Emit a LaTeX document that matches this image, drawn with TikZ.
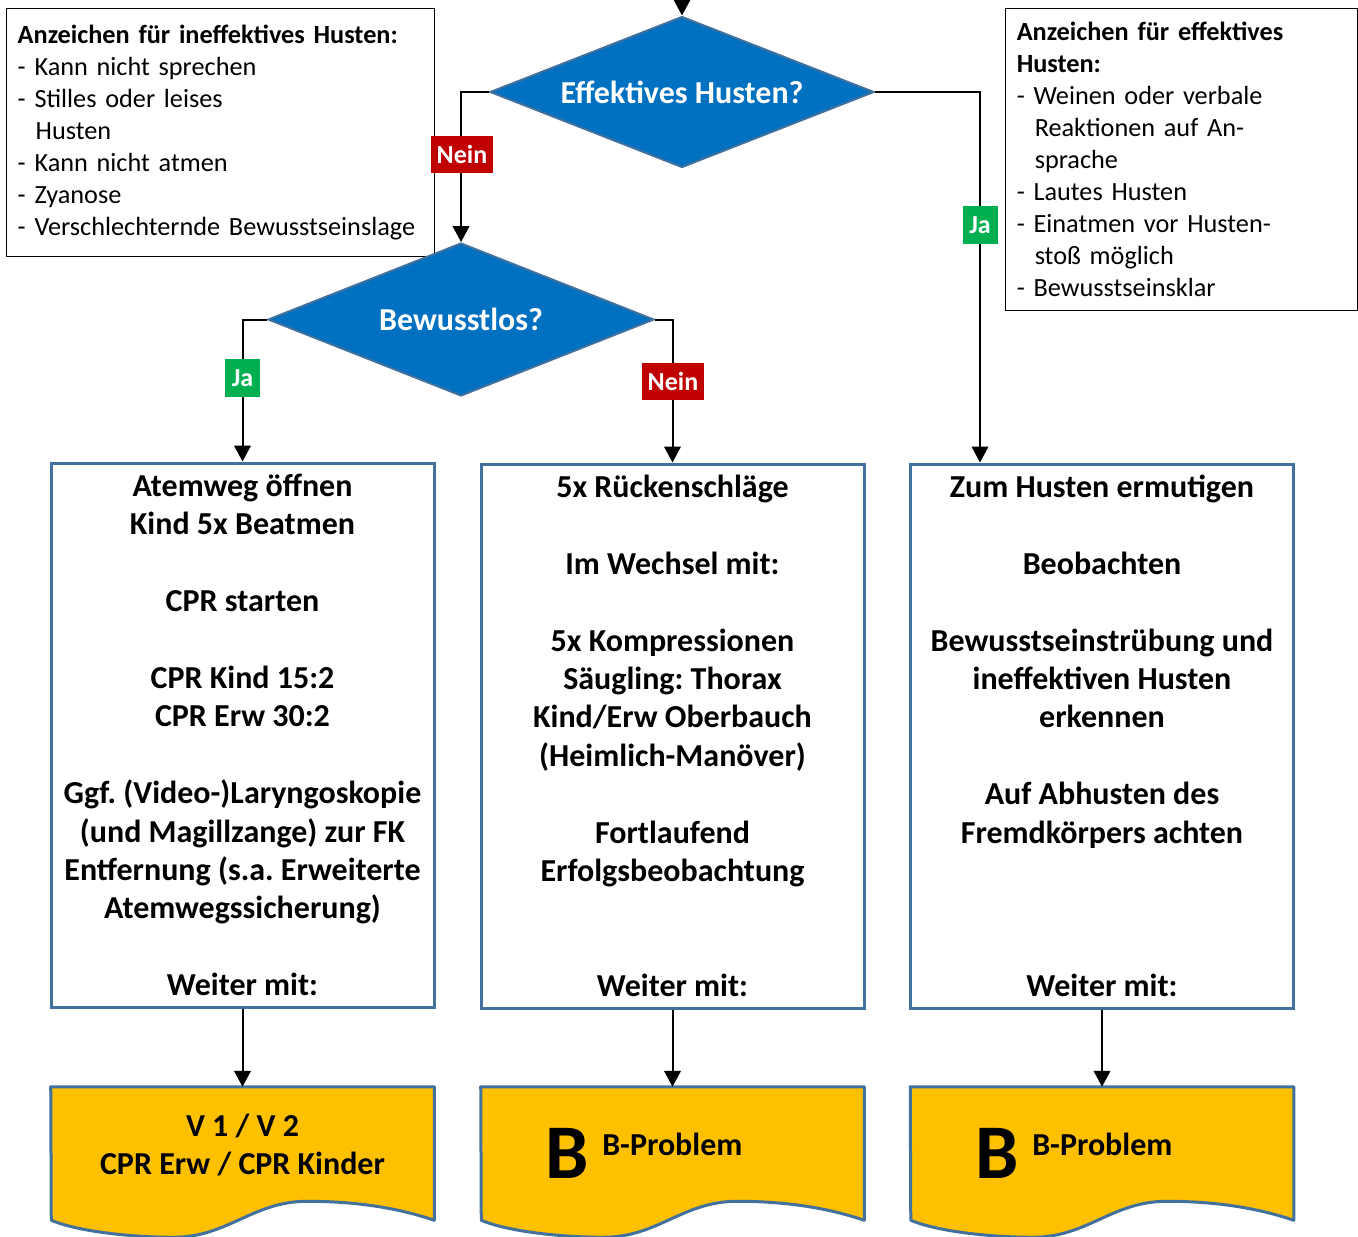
\documentclass[tikz,border=0pt]{standalone}
\usepackage{fontspec}
\setmainfont{Carlito}
\usetikzlibrary{shapes.geometric,arrows.meta}

\definecolor{decblue}{HTML}{0070C0}
\definecolor{frameblue}{HTML}{41719C}
\definecolor{docyellow}{HTML}{FFC000}
\definecolor{neinred}{HTML}{C00000}
\definecolor{jagreen}{HTML}{00B050}

\frenchspacing
\newcommand{\bxfont}{\fontsize{24pt}{28.8pt}\selectfont\bfseries}
\newcommand{\clfont}{\fontsize{19.7pt}{24pt}\selectfont}
\newcommand{\lbfont}{\fontsize{19.5pt}{21pt}\selectfont\bfseries}
\newcommand{\bigBfont}{\fontsize{58pt}{60pt}\selectfont\bfseries}
\newcommand{\ind}{\hspace*{13.5pt}}

% wavy lower edge of a document symbol, drawn around an invisible frame node
\newcommand{\docwave}[1]{%
  \draw[docstyle] (#1.north west) -- (#1.north east) -- (#1.south east)
    .. controls +(-44,-15) and +(38,0) .. ++(-127,-19)
    .. controls +(-55,0) and +(55,0) .. ++(-134,36)
    .. controls +(-38,0) and +(29,12) .. ++(-122,-17) -- cycle;}

\begin{document}
\begin{tikzpicture}[x=0.75pt,y=-0.75pt,
  conn/.style={line width=1.5pt, -{Triangle[length=12pt,width=12.5pt]}},
  decision/.style={diamond, draw=frameblue, line width=1.5pt, fill=decblue,
    text=white, font=\bxfont, inner sep=0pt, shape aspect=2.5},
  stepbox/.style={rectangle, draw=frameblue, line width=2.25pt, fill=white,
    minimum width=287.25pt, minimum height=408pt, align=center,
    font=\bxfont, inner sep=0pt},
  docframe/.style={rectangle, minimum width=287.25pt, minimum height=99.75pt, inner sep=0pt},
  docstyle/.style={draw=frameblue, line width=2.25pt, fill=docyellow, line join=round},
  doctext/.style={font=\bxfont, align=center, inner sep=0pt},
  callout/.style={rectangle, draw=black, line width=1.1pt, fill=white,
    align=left, inner xsep=8.25pt, inner ysep=4pt, font=\clfont, anchor=north west},
  neinlab/.style={rectangle, fill=neinred, text=white, font=\lbfont,
    minimum width=46.5pt, minimum height=27.75pt, inner sep=0pt},
  jalab/.style={rectangle, fill=jagreen, text=white, font=\lbfont,
    minimum width=26.25pt, minimum height=28.5pt, inner sep=0pt}
]
\useasboundingbox (0,0) rectangle (1358,1236);

% sign lists
\node[callout, text width=304.5pt, minimum height=186pt] (c1) at (6,8)
  {\textbf{Anzeichen für ineffektives Husten:}\\
   - Kann nicht sprechen\\
   - Stilles oder leises\\
   \ind Husten\\
   - Kann nicht atmen\\
   - Zyanose\\
   - Verschlechternde Bewusstseinslage};
\node[callout, text width=247.5pt, minimum height=226.5pt] (c2) at (1005,8)
  {\textbf{Anzeichen für effektives}\\
   \textbf{Husten:}\\
   - Weinen oder verbale\\
   \ind Reaktionen auf An-\\
   \ind sprache\\
   - Lautes Husten\\
   - Einatmen vor Husten-\\
   \ind stoß möglich\\
   - Bewusstseinsklar};

% decisions
\node[decision, minimum width=288pt, minimum height=113.25pt] (d1) at (682,92) {Effektives Husten?};
\node[decision, minimum width=289.5pt, minimum height=114.75pt] (d2) at (461,319.5) {Bewusstlos?};

% action boxes
\node[stepbox] (b1) at (242.5,735) {Atemweg öffnen\\Kind 5x Beatmen\\ \null\\CPR starten\\ \null\\
  CPR Kind 15:2\\CPR Erw 30:2\\ \null\\Ggf. (Video-)Laryngoskopie\\(und Magillzange) zur FK\\
  Entfernung (s.a. Erweiterte\\Atemwegssicherung)\\ \null\\Weiter mit:};
\node[stepbox] (b2) at (672.5,736) {5x Rückenschläge\\ \null\\Im Wechsel mit:\\ \null\\
  5x Kompressionen\\Säugling: Thorax\\Kind/Erw Oberbauch\\(Heimlich-Manöver)\\ \null\\
  Fortlaufend\\Erfolgsbeobachtung\\ \null\\ \null\\Weiter mit:};
\node[stepbox] (b3) at (1102,736) {Zum Husten ermutigen\\ \null\\Beobachten\\ \null\\
  Bewusstseinstrübung und\\ineffektiven Husten\\erkennen\\ \null\\Auf Abhusten des\\
  Fremdkörpers achten\\ \null\\ \null\\ \null\\Weiter mit:};

% follow-up documents
\node[docframe] (doc1) at (242.5,1153.5) {};
\node[docframe] (doc2) at (672.5,1153.5) {};
\node[docframe] (doc3) at (1102,1153.5) {};
\docwave{doc1}
\docwave{doc2}
\docwave{doc3}
\node[doctext] (t1) at (242.5,1145) {V 1 / V 2\\CPR Erw / CPR Kinder};
\node[font=\bigBfont, inner sep=0pt, anchor=base west] (B2) at (545,1178) {B};
\node[font=\bxfont, inner sep=0pt, anchor=base west] (p2) at (602,1155) {B-Problem};
\node[font=\bigBfont, inner sep=0pt, anchor=base west] (B3) at (975,1178) {B};
\node[font=\bxfont, inner sep=0pt, anchor=base west] (p3) at (1032,1155) {B-Problem};

% connectors
\coordinate (entry) at (682,-10);
\draw[conn] (entry) -- (d1.north);
\draw[conn] (d1.west) -| (d2.north);
\draw[conn] (d1.east) -| ([xshift=-91.5pt]b3.north);
\draw[conn] (d2.west) -| (b1.north);
\draw[conn] (d2.east) -| (b2.north);
\draw[conn] (b1.south) -- (doc1.north);
\draw[conn] (b2.south) -- (doc2.north);
\draw[conn] (b3.south) -- (doc3.north);

% branch labels
\node[neinlab] (n1) at (462,154) {Nein};
\node[jalab] (j1) at (980,225) {Ja};
\node[jalab] (j2) at (242.5,378) {Ja};
\node[neinlab] (n2) at (673,381) {Nein};
\end{tikzpicture}
\end{document}
